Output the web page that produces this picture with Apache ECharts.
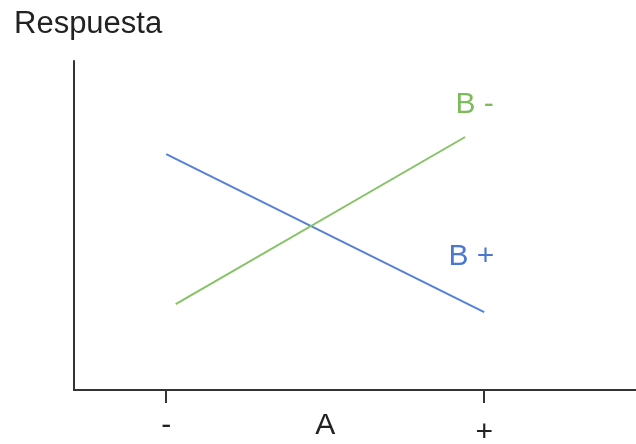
<!DOCTYPE html>
<html>
<head>
<meta charset="utf-8">
<script src="https://cdn.jsdelivr.net/npm/echarts@6/dist/echarts.min.js"></script>
<style>
  html, body { margin: 0; padding: 0; background: #fff; }
  #chart { width: 636px; height: 444px; }
</style>
</head>
<body>
<div id="chart"></div>
<script>
// factor A levels (-1 = "-", 1 = "+") and response values
var tickValues = [-1, 1];
var tickLabels = { '-1': '-', '0': 'A', '1': '+' };
var bPlus = [[-1, 7.17], [1, 2.37]];
var bMinus = [[-0.94, 2.61], [0.88, 7.69]];
// where the series names sit
var bMinusLabel = [0.94, 8.66];
var bPlusLabel = [0.92, 4.05];

var blue = '#5580d6';
var green = '#86c266';
var font = '"Liberation Sans", Arial, sans-serif';

var chart = echarts.init(document.getElementById('chart'));

function nameMark(pos, text, color) {
    return {
        symbol: 'circle',
        symbolSize: 0,
        silent: true,
        data: [{ coord: pos }],
        label: {
            show: true,
            position: 'inside',
            formatter: text,
            color: color,
            fontSize: 30,
            fontFamily: font
        }
    };
}

chart.setOption({
    animation: false,
    title: {
        text: 'Respuesta',
        left: 9,
        top: 4,
        textStyle: { color: '#222', fontSize: 31, fontWeight: 'normal', fontFamily: font }
    },
    grid: { left: 74, right: 0, top: 61, bottom: 54, outerBoundsMode: 'none' },
    xAxis: {
        type: 'value',
        min: -1.58,
        max: 1.955,
        axisLine: { lineStyle: { color: '#333', width: 2 } },
        axisTick: { show: true, customValues: tickValues, length: 13, lineStyle: { color: '#333', width: 2 } },
        splitLine: { show: false },
        axisLabel: {
            customValues: [-1, 0, 1],
            margin: 21,
            fontSize: 30,
            fontFamily: font,
            color: '#222',
            formatter: function (v) {
                return v === 1 ? '{p|+}' : tickLabels[String(v)];
            },
            rich: { p: { fontSize: 30, fontFamily: font, color: '#222', padding: [7, 0, 0, 0] } }
        }
    },
    yAxis: {
        type: 'value',
        min: 0,
        max: 10,
        axisLine: { show: true, onZero: false, lineStyle: { color: '#333', width: 2 } },
        axisTick: { show: false },
        axisLabel: { show: false },
        splitLine: { show: false }
    },
    series: [
        {
            name: 'B +',
            type: 'line',
            data: bPlus,
            symbol: 'none',
            lineStyle: { color: blue, width: 2 },
            markPoint: nameMark(bPlusLabel, 'B +', '#4a78d0')
        },
        {
            name: 'B -',
            type: 'line',
            data: bMinus,
            symbol: 'none',
            lineStyle: { color: green, width: 2 },
            markPoint: nameMark(bMinusLabel, 'B -', '#7cbb5c')
        }
    ]
});
</script>
</body>
</html>
